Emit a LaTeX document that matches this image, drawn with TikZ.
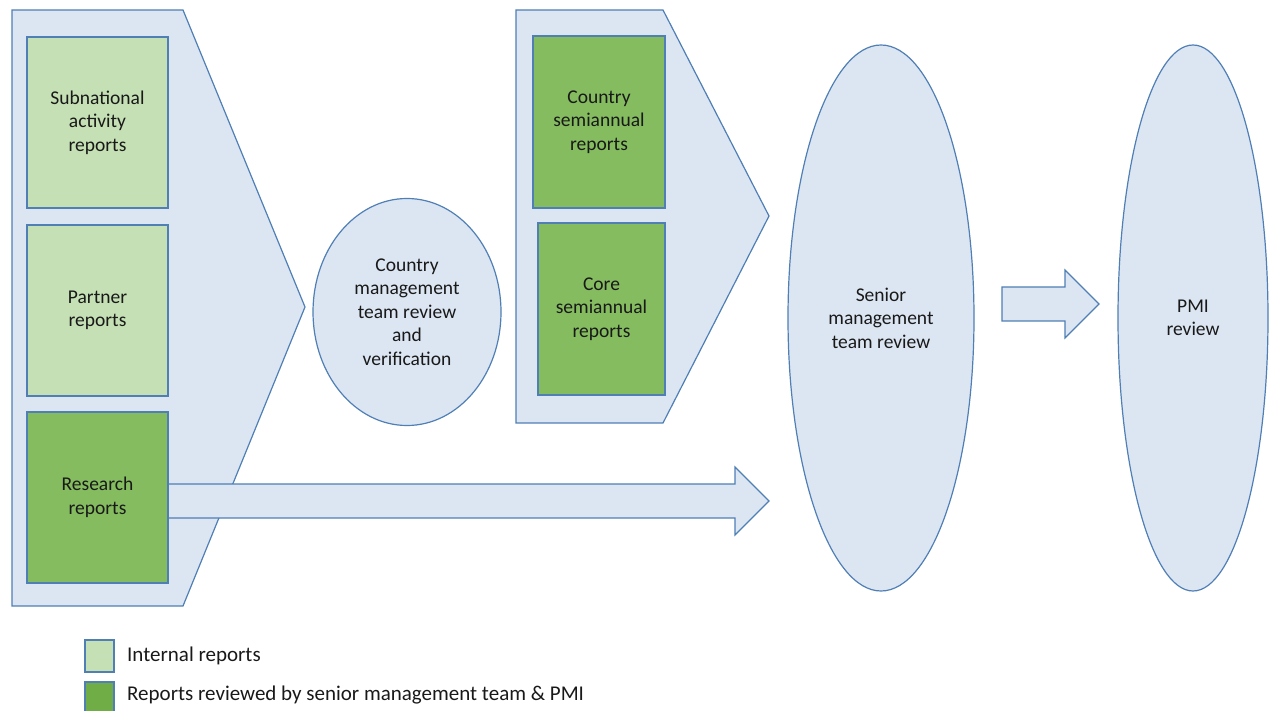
\documentclass[tikz,border=0pt]{standalone}
\usepackage{fontspec}
\setmainfont{Carlito}
\usetikzlibrary{shapes.geometric,calc}
\definecolor{chevfill}{HTML}{DCE6F2}
\definecolor{chevline}{HTML}{4F7FB5}
\definecolor{lightgreen}{HTML}{C5E0B4}
\definecolor{darkgreen}{HTML}{84BC5F}
\definecolor{legendgreen}{HTML}{70AD47}
\newcommand{\headlen}{34}
\newcommand{\shafthalf}{17}

\tikzset{
  txt/.style={font=\fontsize{19.5}{23.5}\selectfont, text=black!90},
  keytxt/.style={font=\fontsize{21}{25}\selectfont, text=black!90},
  shell/.style={draw=chevline, fill=chevfill, line width=1.2pt, line join=miter},
  report/.style={shell, txt, rectangle, align=center, inner sep=0pt},
  review/.style={shell, txt, ellipse, align=center, inner sep=0pt},
  legendbox/.style={draw=chevline, line width=1.2pt, inner sep=0pt, minimum width=29pt}
}

\begin{document}
\begin{tikzpicture}[x=1pt,y=-1pt]
    \useasboundingbox (0,0) rectangle (1270,711);
    %Chevrons:
    \draw[shell] (12,10) -- (183,10) -- (305,307) -- (183,606) -- (12,606) -- cycle;
    \draw[shell] (516,10) -- (663,10) -- (769,216) -- (663,423) -- (516,423) -- cycle;

    %Block arrows:
    \coordinate (bigtail) at (168,501);
    \coordinate (bigtip) at (769,501);
    \draw[shell] ($(bigtail)+(0,-\shafthalf)$) -- ($(bigtip)+(-\headlen,-\shafthalf)$)
        -- ($(bigtip)+(-\headlen,-\headlen)$) -- (bigtip) -- ($(bigtip)+(-\headlen,\headlen)$)
        -- ($(bigtip)+(-\headlen,\shafthalf)$) -- ($(bigtail)+(0,\shafthalf)$);
    \coordinate (smalltail) at (1002,304);
    \coordinate (smalltip) at (1099,304);
    \draw[shell] ($(smalltail)+(0,-\shafthalf)$) -- ($(smalltip)+(-\headlen,-\shafthalf)$)
        -- ($(smalltip)+(-\headlen,-\headlen)$) -- (smalltip) -- ($(smalltip)+(-\headlen,\headlen)$)
        -- ($(smalltip)+(-\headlen,\shafthalf)$) -- ($(smalltail)+(0,\shafthalf)$) -- cycle;

    %Reports:
    \node[report, fill=lightgreen, minimum width=141pt, minimum height=171pt] (subnational) at (97.5,122.5) {Subnational\\activity\\reports};
    \node[report, fill=lightgreen, minimum width=141pt, minimum height=171pt] (partner) at (97.5,310.5) {Partner\\reports};
    \node[report, fill=darkgreen, minimum width=141pt, minimum height=171pt] (research) at (97.5,497.5) {Research\\reports};
    \node[report, fill=darkgreen, minimum width=132pt, minimum height=172pt] (countrysemi) at (599,122) {Country\\semiannual\\reports};
    \node[report, fill=darkgreen, minimum width=127pt, minimum height=172pt] (coresemi) at (601.5,309) {Core\\semiannual\\reports};

    %Reviews:
    \node[review, minimum width=188pt, minimum height=227pt] (countryreview) at (407,312) {Country\\management\\team review\\and\\verification};
    \node[review, minimum width=186pt, minimum height=546pt] (seniorreview) at (881,318) {Senior\\management\\team review};
    \node[review, minimum width=150pt, minimum height=546pt] (pmireview) at (1193,318) {PMI\\review};

    %Legend:
    \node[legendbox, fill=lightgreen, minimum height=32pt] (internalkey) at (99.5,656) {};
    \node[legendbox, fill=legendgreen, minimum height=31pt] (reviewedkey) at (99.5,697.5) {};
    \node[keytxt, anchor=west, inner sep=0pt] (internallabel) at (127,656) {Internal reports};
    \node[keytxt, anchor=west, inner sep=0pt] (reviewedlabel) at (127,695) {Reports reviewed by senior management team \& PMI};
\end{tikzpicture}
\end{document}
